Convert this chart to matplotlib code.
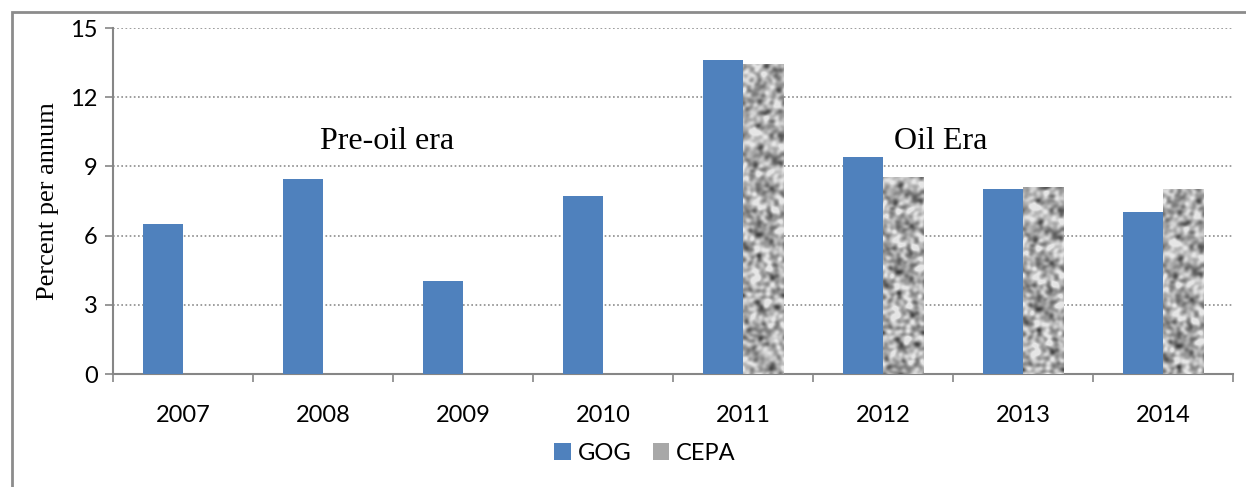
import numpy as np
import matplotlib
matplotlib.use('Agg')
import matplotlib.pyplot as plt
from matplotlib.patches import Patch, Rectangle

years = ['2007', '2008', '2009', '2010', '2011', '2012', '2013', '2014']
gog = [6.5, 8.45, 4.03, 7.7, 13.6, 9.4, 8.02, 7.02]
cepa = [None, None, None, None, 13.44, 8.54, 8.1, 8.02]
y_ticks = [0, 3, 6, 9, 12, 15]

tick_font = 'Lato'
serif_font = 'Liberation Serif'

# mottled grey texture used to fill the CEPA bars (about one cell per pixel)
rng = np.random.default_rng(3)
ny, nx = 346, 40
noise = rng.random((ny, nx))
spec = np.fft.fft2(noise)
fy = np.fft.fftfreq(ny)[:, None]
fx = np.fft.fftfreq(nx)[None, :]
spec *= np.exp(-(fx ** 2 + fy ** 2) / (2 * 0.085 ** 2))
tex = np.real(np.fft.ifft2(spec))
tex = (tex - tex.min()) / (tex.max() - tex.min())
tex = np.clip(0.25 + 0.85 * tex, 0, 0.9)

fig = plt.figure(figsize=(12.46, 4.87), dpi=100)
ax = fig.add_axes([0.0907, 0.232, 0.8989, 0.7105])

x = np.arange(len(years))
w = 0.286
ax.bar(x - w / 2, gog, width=w, color='#4f81bd', zorder=3)

for i, (xi, v) in enumerate(zip(x, cepa)):
    if v is None:
        continue
    r = Rectangle((xi, 0), w, v, facecolor='none', edgecolor='none', zorder=3)
    ax.add_patch(r)
    rows = int(round(v / 15 * ny))
    part = np.roll(tex, i * 37, axis=0)[-rows:]
    im = ax.imshow(part, cmap='gray', vmin=0, vmax=1, extent=(xi, xi + w, 0, v),
                   aspect='auto', interpolation='bilinear', zorder=3)
    im.set_clip_path(r)

ax.set_xlim(-0.5, len(years) - 0.5)
ax.set_ylim(0, 15)
ax.set_yticks(y_ticks)
ax.set_yticklabels([str(t) for t in y_ticks], fontfamily=tick_font, fontsize=17)
ax.set_xticks(x)
ax.set_xticklabels(years, fontfamily=tick_font, fontsize=17)
ax.set_xticks(np.arange(len(years) + 1) - 0.5, minor=True)
ax.tick_params(axis='x', which='major', length=0, pad=22)
ax.tick_params(axis='x', which='minor', length=6, color='#868686', width=1.2)
ax.tick_params(axis='y', length=6, color='#868686', width=1.2, pad=5)

ax.grid(axis='y', linestyle=(0, (1, 1.5)), color='#8c8c8c', linewidth=1.2, zorder=0)
for s in ['top', 'right']:
    ax.spines[s].set_visible(False)
for s in ['left', 'bottom']:
    ax.spines[s].set_color('#868686')
    ax.spines[s].set_linewidth(1.5)
ax.set_axisbelow(True)

ax.set_ylabel('Percent per annum', fontfamily=serif_font, fontsize=19, labelpad=8)

ax.text(1.46, 10.1, 'Pre-oil era', fontfamily=serif_font, fontsize=23,
        ha='center', va='center')
ax.text(5.41, 10.1, 'Oil Era', fontfamily=serif_font, fontsize=23,
        ha='center', va='center')

handles = [Patch(facecolor='#4f81bd'), Patch(facecolor='#a8a8a8')]
leg = fig.legend(handles, ['GOG', 'CEPA'], loc='center', bbox_to_anchor=(645 / 1246, 1 - 453 / 487),
                 ncol=2, frameon=False, prop={'family': tick_font, 'size': 17},
                 handlelength=0.7, handleheight=0.7, handletextpad=0.3, columnspacing=0.9)

# outer chart border
fig.add_artist(Rectangle((12 / 1246, -0.1), 1.2, 1 - 12 / 487 + 0.1, transform=fig.transFigure,
                         facecolor='none', edgecolor='#8c8c8c', linewidth=2))

fig.savefig('out.png', dpi=100)
